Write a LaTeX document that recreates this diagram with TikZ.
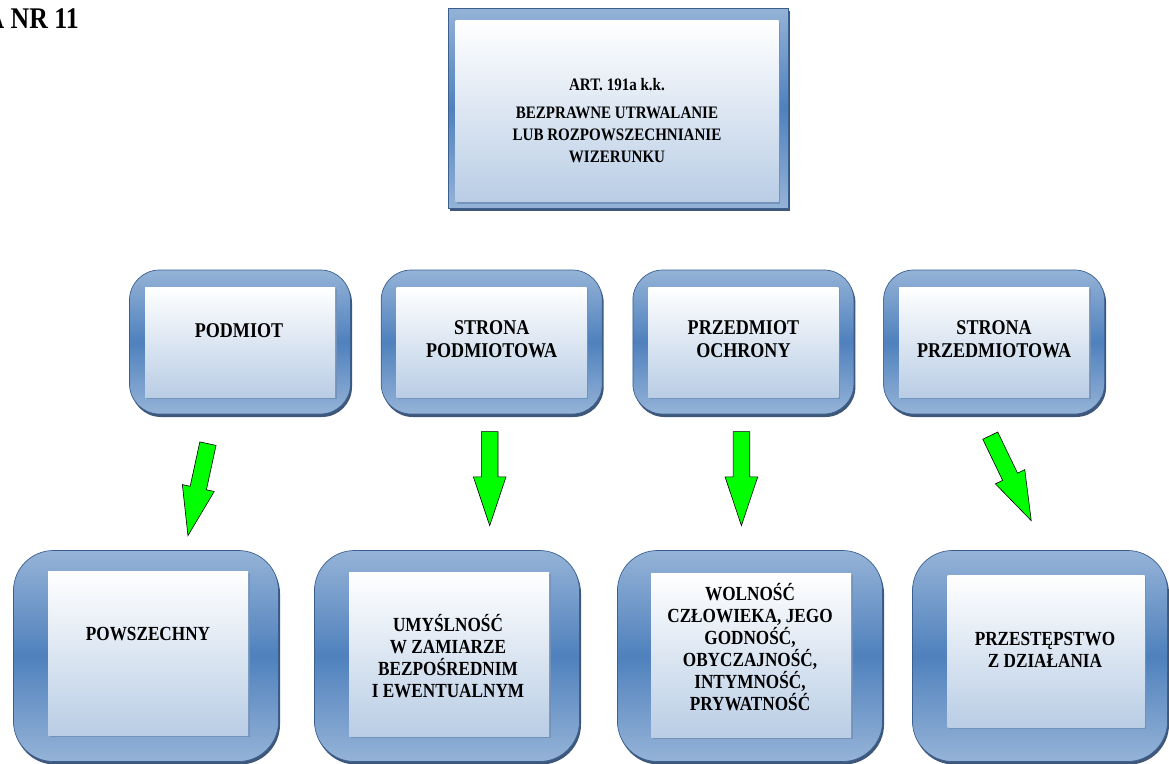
\documentclass[tikz,border=0pt]{standalone}
\usepackage{fontspec}
\setmainfont{Liberation Serif}[FakeStretch=0.86]
\usetikzlibrary{positioning,calc,shapes.arrows,shadows}

\definecolor{framelight}{HTML}{95B3D7}
\definecolor{framedark}{HTML}{4F81BD}
\definecolor{frameedge}{HTML}{3A5F8F}
\definecolor{shadowblue}{HTML}{2A4569}
\definecolor{panelblue}{HTML}{B9CDE5}
\definecolor{panelshade}{HTML}{7391B9}
\definecolor{arrowgreen}{HTML}{00FF00}

\tikzset{
  bevelframe/.style={draw=frameedge, line width=0.7pt,
    top color=framelight, bottom color=framelight, middle color=framedark,
    drop shadow={shadow xshift=1.5pt, shadow yshift=-3pt, fill=shadowblue, opacity=0.9}},
  midframe/.style={bevelframe, rounded corners=30pt, minimum width=221pt, minimum height=144pt},
  lowframe/.style={bevelframe, rounded corners=40pt, minimum width=265pt, minimum height=211pt},
  panelbox/.style={inner sep=0pt, top color=white, bottom color=panelblue,
    drop shadow={shadow xshift=1.5pt, shadow yshift=-2pt, fill=panelshade, opacity=0.9}},
  midpanel/.style={panelbox, minimum width=190pt, minimum height=110pt},
  lowpanel/.style={panelbox, minimum width=200pt, minimum height=164pt},
  boxtext/.style={align=center, inner sep=0pt, font=\fontsize{20}{22}\selectfont\bfseries},
  midtext/.style={boxtext, font=\fontsize{21}{23}\selectfont\bfseries},
  greenarrow/.style={single arrow, draw=black, line width=0.6pt, fill=arrowgreen,
    inner xsep=0pt, inner ysep=8pt, single arrow head extend=8pt,
    single arrow tip angle=37, anchor=tail},
}
% block arrow from #1 (tail) to #2 (tip)
\newcommand{\blockarrow}[2]{%
  \path let \p1 = ($(#2)-(#1)$), \n1 = {atan2(\y1,\x1)}, \n2 = {veclen(\x1,\y1)}
    in (#1) node[greenarrow, rotate=\n1, minimum height=\n2] {};}

\begin{document}
\begin{tikzpicture}[x=1pt, y=-1pt]
    \useasboundingbox (0,0) rectangle (1169,763);
    % title
    \node[anchor=base east, inner sep=0pt, font=\fontsize{30}{34}\selectfont\bfseries] (title) at (79,28) {A NR 11};
    % top box
    \node[bevelframe, minimum width=340pt, minimum height=200pt] (f_art) at (618,108) {};
    \node[panelbox, minimum width=323pt, minimum height=181pt] (p_art) at (617,111) {};
    \node[boxtext, font=\fontsize{17.5}{22}\selectfont\bfseries] (art) at (617,121)
        {ART. 191a k.k.\\[6pt] BEZPRAWNE UTRWALANIE\\ LUB ROZPOWSZECHNIANIE\\ WIZERUNKU};
    % middle row
    \node[midframe] (f_pod) at (240,342) {};
    \node[midframe, right=30pt of f_pod] (f_spod) {};
    \node[midframe, right=30pt of f_spod] (f_ochr) {};
    \node[midframe, right=29pt of f_ochr] (f_sprz) {};
    \node[midpanel] (p_pod) at (f_pod) {};
    \node[midpanel] (p_spod) at (f_spod) {};
    \node[midpanel] (p_ochr) at (f_ochr) {};
    \node[midpanel] (p_sprz) at (f_sprz) {};
    \node[midtext] (pod) at ($(p_pod)+(-1,-11)$) {PODMIOT};
    \node[midtext] (spod) at ($(p_spod)+(0,-3)$) {STRONA\\ PODMIOTOWA};
    \node[midtext] (ochr) at ($(p_ochr)+(0,-3)$) {PRZEDMIOT\\ OCHRONY};
    \node[midtext] (sprz) at ($(p_sprz)+(0,-3)$) {STRONA\\ PRZEDMIOTOWA};
    % bottom row
    \node[lowframe] (f_pow) at (146,656) {};
    \node[lowframe] (f_umy) at (447,656) {};
    \node[lowframe] (f_wol) at (750,656) {};
    \node[lowframe, minimum width=255pt] (f_prz) at (1040,656) {};
    \node[lowpanel] (p_pow) at ($(f_pow)+(2,-3)$) {};
    \node[lowpanel] (p_umy) at ($(f_umy)+(2,-2)$) {};
    \node[lowpanel] (p_wol) at ($(f_wol)+(1,-1)$) {};
    \node[lowpanel, minimum width=197pt, minimum height=152pt] (p_prz) at ($(f_prz)+(6,-5)$) {};
    \node[boxtext] (pow) at (148,634) {POWSZECHNY};
    \node[boxtext] (umy) at (448,656) {UMYŚLNOŚĆ\\ W ZAMIARZE\\ BEZPOŚREDNIM\\ I EWENTUALNYM};
    \node[boxtext] (wol) at (750,647) {WOLNOŚĆ\\ CZŁOWIEKA, JEGO\\ GODNOŚĆ,\\ OBYCZAJNOŚĆ,\\ INTYMNOŚĆ,\\ PRYWATNOŚĆ};
    \node[boxtext] (prz) at (1045,650) {PRZESTĘPSTWO\\ Z DZIAŁANIA};
    % arrows
    \coordinate (a_pod_s) at ($(f_pod.south)+(-32,29)$);
    \coordinate (a_pod_e) at ($(a_pod_s)+(-20,92)$);
    \coordinate (a_spod_s) at ($(f_spod.south)+(-2,17)$);
    \coordinate (a_spod_e) at ($(a_spod_s)+(0,94)$);
    \coordinate (a_ochr_s) at ($(f_ochr.south)+(-2,17)$);
    \coordinate (a_ochr_e) at ($(a_ochr_s)+(0,94)$);
    \coordinate (a_sprz_s) at ($(f_sprz.south)+(-4,21)$);
    \coordinate (a_sprz_e) at ($(a_sprz_s)+(41,85)$);
    \blockarrow{a_pod_s}{a_pod_e}
    \blockarrow{a_spod_s}{a_spod_e}
    \blockarrow{a_ochr_s}{a_ochr_e}
    \blockarrow{a_sprz_s}{a_sprz_e}
\end{tikzpicture}
\end{document}
